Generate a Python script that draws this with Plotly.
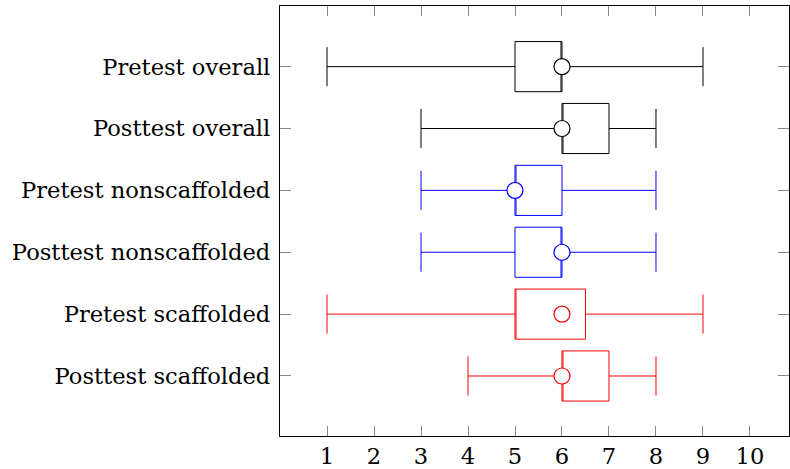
import plotly.graph_objects as go

# Summary statistics of test scores per group
groups = ["Pretest overall", "Posttest overall", "Pretest nonscaffolded",
          "Posttest nonscaffolded", "Pretest scaffolded", "Posttest scaffolded"]
lower_whisker = [1, 3, 3, 3, 1, 4]
lower_quartile = [5, 6, 5, 5, 5, 6]
medians = [6, 6, 5, 6, 5, 6]
upper_quartile = [6, 7, 6, 6, 6.5, 7]
upper_whisker = [9, 8, 8, 8, 9, 8]
averages = [6, 6, 5, 6, 6, 6]
colors = ["#000000", "#000000", "#0000ff", "#0000ff", "#ff0000", "#ff0000"]
x_ticks = [1, 2, 3, 4, 5, 6, 7, 8, 9, 10]

FONT = "DejaVu Serif"
positions = list(range(1, len(groups) + 1))

fig = go.Figure()
for i, pos in enumerate(positions):
    c = colors[i]
    fig.add_trace(go.Box(
        orientation="h",
        y=[pos],
        q1=[lower_quartile[i]],
        median=[medians[i]],
        q3=[upper_quartile[i]],
        lowerfence=[lower_whisker[i]],
        upperfence=[upper_whisker[i]],
        width=0.81,
        whiskerwidth=0.78,
        line=dict(color=c, width=1),
        fillcolor="rgba(0,0,0,0)",
        boxpoints=False,
        hoverinfo="skip",
        showlegend=False,
    ))
    fig.add_trace(go.Scatter(
        x=[averages[i]], y=[pos], mode="markers",
        marker=dict(symbol="circle", size=16, color="white",
                    line=dict(color=c, width=1.2)),
        hoverinfo="skip", showlegend=False,
    ))

fig.update_layout(
    width=790, height=469,
    margin=dict(l=280, r=1, t=6, b=33),
    paper_bgcolor="white", plot_bgcolor="white",
    font=dict(family=FONT, size=22.6, color="black"),
    xaxis=dict(
        range=[0, 10.83], tickvals=x_ticks, ticktext=[str(v) for v in x_ticks],
        ticks="inside", ticklen=10, tickcolor="#888888", tickwidth=1,
        showline=True, linecolor="black", linewidth=1.3, mirror="ticks",
        showgrid=False, zeroline=False,
    ),
    yaxis=dict(
        range=[6.97, 0.02], tickvals=positions, ticktext=groups,
        ticks="inside", ticklen=11, tickcolor="#888888", tickwidth=1,
        showline=True, linecolor="black", linewidth=1.3, mirror="ticks",
        showgrid=False, zeroline=False, ticklabelstandoff=4,
    ),
)

fig.write_html("out.html")
